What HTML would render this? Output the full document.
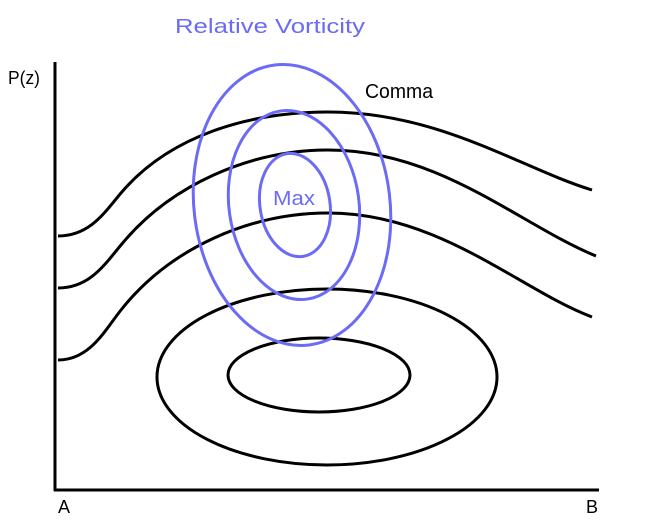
<!DOCTYPE html>
<html><head><style>
html,body{margin:0;padding:0;background:#fff;}
svg{display:block;}
text{font-family:"Liberation Sans",sans-serif;}
</style></head><body>
<svg width="650" height="524" viewBox="0 0 650 524" xmlns="http://www.w3.org/2000/svg">
<g fill="none" stroke="#000" stroke-width="3">
<line x1="55" y1="62" x2="55" y2="491"/>
<line x1="54" y1="490" x2="599" y2="490"/>
<path d="M58,236 C90,236 105,212 121,193 C170,135 250,112 328,112 C440,112 520,168 592,190"/>
<path d="M58,288 C90,288 105,264 121,245 C170,185 250,150 328,150 C440,150 520,225 596,256"/>
<path d="M58,360 C90,360 105,330 121,310 C170,248 250,213 328,213 C440,213 520,290 592,317"/>
<ellipse cx="327" cy="377" rx="170" ry="88"/>
<ellipse cx="319" cy="375" rx="91" ry="37"/>
</g>
<g fill="none" stroke="#6b6bf5" stroke-width="3">
<ellipse cx="292" cy="205" rx="98" ry="141" transform="rotate(-7 292 205)"/>
<ellipse cx="294" cy="205" rx="65" ry="95" transform="rotate(-8 294 205)"/>
<ellipse cx="295" cy="205" rx="35" ry="52" transform="rotate(-9 295 205)"/>
</g>
<text x="8" y="84" font-size="18" textLength="32" lengthAdjust="spacingAndGlyphs">P(z)</text>
<text x="58" y="513" font-size="18">A</text>
<text x="586" y="513" font-size="18">B</text>
<text x="175" y="33" font-size="20" fill="#6b6bf5" textLength="190" lengthAdjust="spacingAndGlyphs">Relative Vorticity</text>
<text x="365" y="98" font-size="20" textLength="68" lengthAdjust="spacingAndGlyphs">Comma</text>
<text x="273" y="205" font-size="20" fill="#6b6bf5" textLength="42" lengthAdjust="spacingAndGlyphs">Max</text>
</svg>
</body></html>
